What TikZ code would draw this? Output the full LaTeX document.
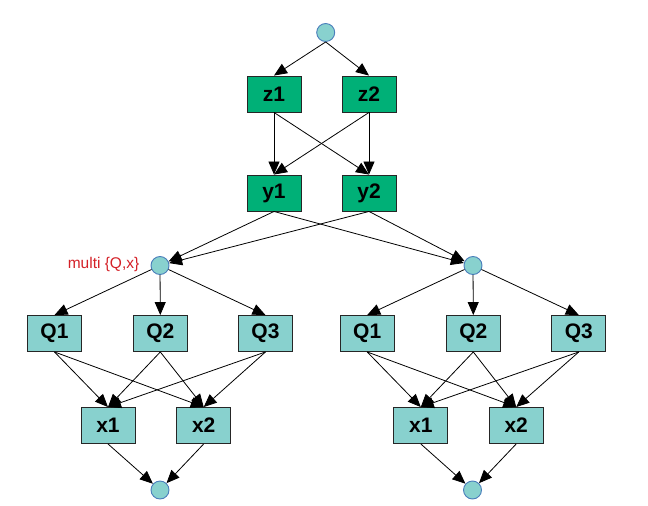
\documentclass[tikz,border=0pt]{standalone}
\usepackage{fontspec}
\setmainfont{Liberation Sans}
\usetikzlibrary{arrows.meta}
\definecolor{zgreen}{HTML}{00B077}
\definecolor{qteal}{HTML}{88D1CE}
\definecolor{cblue}{HTML}{4A7EBB}
\definecolor{lred}{HTML}{D42027}
\tikzset{
  gbox/.style={draw=black!85, line width=0.9pt, fill=zgreen, minimum width=54pt, minimum height=36pt, inner sep=0pt, font=\fontsize{21}{21}\selectfont\bfseries},
  tbox/.style={gbox, fill=qteal},
  dot/.style={circle, draw=cblue, line width=0.9pt, fill=qteal, minimum size=18pt, inner sep=0pt},
  edge/.style={draw=black, line width=0.8pt, -{Triangle[length=13pt,width=11pt]}},
}
\begin{document}
\begin{tikzpicture}[x=1pt,y=-1pt]
\useasboundingbox (0,0) rectangle (648,506);
\node[dot] (top) at (325.7,32.5) {};
\node[gbox] (z1) at (274,94) {z1};
\node[gbox] (z2) at (369,94) {z2};
\node[gbox] (y1) at (274,193) {y1};
\node[gbox] (y2) at (369,193) {y2};
\node[dot] (cL) at (160,265.5) {};
\node[dot] (cR) at (473,265.5) {};
\node[anchor=east, text=lred, font=\fontsize{15.5}{15.5}\selectfont, inner sep=0pt] (lab) at (139.5,264) {multi \{Q,x\}};
% left group
\node[tbox] (lq1) at (54.5,333.5) {Q1};
\node[tbox] (lq2) at (160.3,333.5) {Q2};
\node[tbox] (lq3) at (265.5,333.5) {Q3};
\node[tbox] (lx1) at (108,425.5) {x1};
\node[tbox] (lx2) at (203.7,425.5) {x2};
\node[dot] (bL) at (160,490) {};
% right group
\node[tbox] (rq1) at (367.2,333.5) {Q1};
\node[tbox] (rq2) at (473.3,333.5) {Q2};
\node[tbox] (rq3) at (578.8,333.5) {Q3};
\node[tbox] (rx1) at (420.8,425.5) {x1};
\node[tbox] (rx2) at (516.2,425.5) {x2};
\node[dot] (bR) at (472.5,490) {};
% edges
\draw[edge] (top.south) -- (z1.north);
\draw[edge] (top.south) -- (z2.north);
\draw[edge] (z1.south) -- (y1.north);
\draw[edge] (z1.south) -- (y2.north);
\draw[edge] (z2.south) -- (y1.north);
\draw[edge] (z2.south) -- (y2.north);
\draw[edge] (y1.south) -- (cL);
\draw[edge] (y2.south) -- (cL);
\draw[edge] (y1.south) -- (cR);
\draw[edge] (y2.south) -- (cR);
\draw[edge] (cL) -- (lq1.north);
\draw[edge] (cL) -- (lq2.north);
\draw[edge] (cL) -- (lq3.north);
\draw[edge] (cR) -- (rq1.north);
\draw[edge] (cR) -- (rq2.north);
\draw[edge] (cR) -- (rq3.north);
\foreach \s in {l,r}{
  \foreach \q in {1,2,3}{
    \draw[edge] (\s q\q.south) -- (\s x1.north);
    \draw[edge] (\s q\q.south) -- (\s x2.north);
  }
}
\draw[edge] (lx1.south) -- (bL);
\draw[edge] (lx2.south) -- (bL);
\draw[edge] (rx1.south) -- (bR);
\draw[edge] (rx2.south) -- (bR);
\end{tikzpicture}
\end{document}
